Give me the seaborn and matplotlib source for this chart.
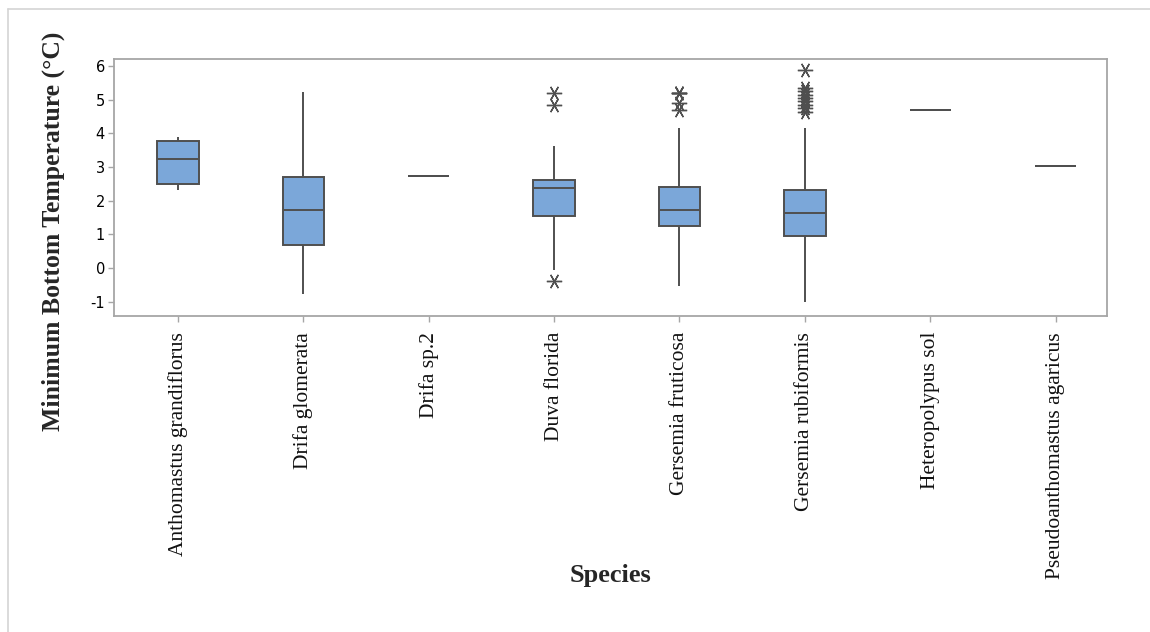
import numpy as np
import pandas as pd
import matplotlib
matplotlib.use("Agg")
import matplotlib.pyplot as plt
import seaborn as sns
from matplotlib.lines import Line2D

# ---- data ----
species = ["Anthomastus grandiflorus", "Drifa glomerata", "Drifa sp.2", "Duva florida",
           "Gersemia fruticosa", "Gersemia rubiformis", "Heteropolypus sol",
           "Pseudoanthomastus agaricus"]
whisker_low = [2.32, -0.76, 2.75, -0.04, -0.52, -1.00, 4.69, 3.04]
q1 = [2.50, 0.70, 2.75, 1.54, 1.25, 0.95, 4.69, 3.04]
median = [3.25, 1.72, 2.75, 2.37, 1.73, 1.63, 4.69, 3.04]
q3 = [3.77, 2.70, 2.75, 2.61, 2.41, 2.32, 4.69, 3.04]
whisker_high = [3.88, 5.24, 2.75, 3.62, 4.17, 4.17, 4.69, 3.04]
outliers = [[], [], [], [-0.37, 4.85, 5.21],
            [4.71, 4.89, 5.19, 5.19, 5.19],
            [4.65, 4.75, 4.85, 4.95, 5.05, 5.15, 5.25, 5.35, 5.88],
            [], []]
y_ticks = [-1, 0, 1, 2, 3, 4, 5, 6]

# build samples whose box statistics reproduce the read summary values
rows = []
k = 50
for i, sp in enumerate(species):
    lo = [v for v in outliers[i] if v < q1[i]]
    hi = [v for v in outliers[i] if v > q3[i]]
    vals = lo + [whisker_low[i]] + [q1[i]] * k + [median[i]] * k + [q3[i]] * k + [whisker_high[i]] + hi
    rows += [(sp, v) for v in vals]
df = pd.DataFrame(rows, columns=["Species", "Temp"])

sns.set_style("white")
plt.rcParams["font.family"] = ["DejaVu Sans"]

fig = plt.figure(figsize=(11.5, 6.32), dpi=100)
ax = fig.add_axes([114 / 1150, 1 - 316 / 632, (1107 - 114) / 1150, (316 - 59) / 632])

edge = "#4f4f4f"
sns.boxplot(data=df, x="Species", y="Temp", order=species, ax=ax,
            color="#7BA7D9", linecolor=edge, linewidth=1.4, width=0.33,
            whis=1.6, showcaps=False, saturation=1,
            flierprops=dict(marker=(6, 2, 30), markersize=11, markeredgewidth=1.0,
                            markeredgecolor=edge, markerfacecolor=edge))

ax.set_xlim(-0.51, 7.41)
ax.set_ylim(-1.42, 6.21)
ax.set_yticks(y_ticks)
ax.set_yticklabels([str(t) for t in y_ticks], fontsize=10.5, color="#000000")

for s in ax.spines.values():
    s.set_visible(True)
    s.set_color("#a6a6a6")
    s.set_linewidth(1.3)

ax.tick_params(axis="both", which="major", direction="out", length=4.5, width=1.0,
               color="#a6a6a6", left=True, bottom=True)
ax.tick_params(axis="y", pad=2)
ax.tick_params(axis="x", pad=7)
ax.set_xticks(range(len(species)))
ax.set_xticklabels(species, rotation=90, family="Liberation Serif", fontsize=15.5,
                   color="#111111")

ax.set_xlabel("Species", family="Liberation Serif", fontweight="bold", fontsize=19)
ax.xaxis.set_label_coords(0.5, -0.965)
ax.set_ylabel("Minimum Bottom Temperature (°C)", family="Liberation Serif",
              fontweight="bold", fontsize=18.5)
ax.yaxis.set_label_coords(-0.049, 0.329)

# light figure border (top & left)
fig.add_artist(Line2D([8 / 1150, 1.0], [1 - 9 / 632, 1 - 9 / 632], transform=fig.transFigure,
                      color="#d4d4d4", linewidth=1.2))
fig.add_artist(Line2D([8 / 1150, 8 / 1150], [0, 1 - 9 / 632], transform=fig.transFigure,
                      color="#d4d4d4", linewidth=1.2))

fig.savefig("out.png", dpi=100)
